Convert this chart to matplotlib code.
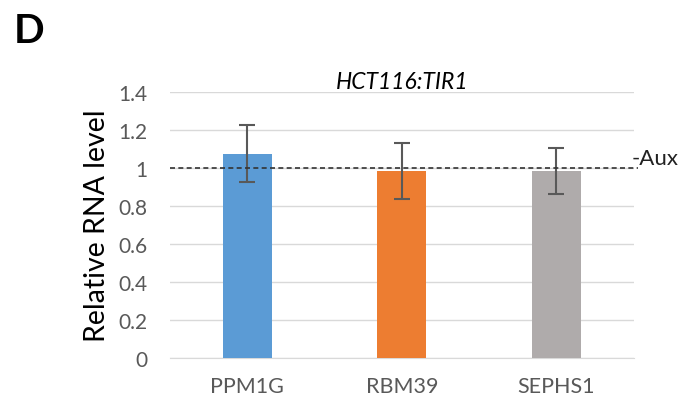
import matplotlib

matplotlib.use("Agg")
import matplotlib.pyplot as plt
import numpy as np

genes = ["PPM1G", "RBM39", "SEPHS1"]
rel_level = [1.074, 0.984, 0.984]
err = [0.15, 0.145, 0.12]
bar_colors = ["#5B9BD5", "#ED7D31", "#AFABAB"]
y_ticks = [0, 0.2, 0.4, 0.6, 0.8, 1, 1.2, 1.4]
y_tick_labels = ["0", "0.2", "0.4", "0.6", "0.8", "1", "1.2", "1.4"]

plt.rcParams["font.family"] = ["Lato", "DejaVu Sans"]

fig = plt.figure(figsize=(6.85, 4.02), dpi=100)
ax = fig.add_axes([0.248, 0.107, 0.677, 0.662])

x = np.arange(len(genes))
ax.bar(x, rel_level, width=0.315, color=bar_colors, zorder=3)
ax.errorbar(x, rel_level, yerr=err, fmt="none", ecolor="#595959",
            elinewidth=1.5, capsize=6, capthick=1.5, zorder=4)

ax.set_xlim(-0.5, len(genes) - 0.5)
ax.set_ylim(0, 1.4)
ax.set_yticks(y_ticks)
ax.set_yticklabels(y_tick_labels)
ax.set_xticks(x)
ax.set_xticklabels(genes)
ax.tick_params(axis="y", length=0, pad=16, labelsize=15, labelcolor="#595959")
ax.tick_params(axis="x", length=0, pad=13, labelsize=15.5, labelcolor="#595959")
ax.grid(axis="y", color="#D9D9D9", linewidth=1, zorder=0)
for side in ["top", "right", "left"]:
    ax.spines[side].set_visible(False)
ax.spines["bottom"].set_color("#D9D9D9")

# -Aux reference line
ax.plot([-0.5, 2.53], [1, 1], linestyle=(0, (3, 2)), color="#333333",
        linewidth=1.2, clip_on=False, zorder=5)
ax.text(2.49, 1.0, "-Aux", fontsize=16, color="#222222", ha="left", va="bottom")

ax.set_title("HCT116:TIR1", fontsize=16.5, style="italic", pad=3)
ax.set_ylabel("Relative RNA level", fontsize=20.5, labelpad=6)

fig.text(0.02, 0.893, "D", fontsize=29, fontweight="bold")

fig.savefig("out.png", dpi=100)
